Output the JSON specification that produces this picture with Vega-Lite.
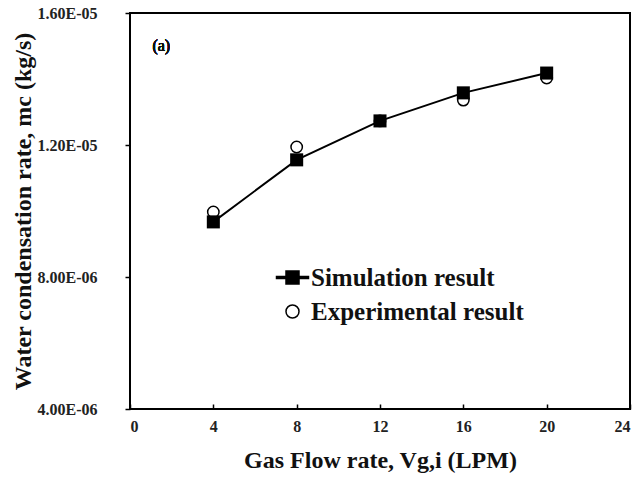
{
  "$schema": "https://vega.github.io/schema/vega-lite/v6.json",
  "autosize": "none",
  "width": 500,
  "height": 396,
  "padding": {"left": 130, "top": 13, "right": 10, "bottom": 70},
  "background": "white",
  "config": {
    "view": {"stroke": "black", "strokeWidth": 2},
    "font": "Liberation Serif",
    "axis": {"grid": false, "domain": false, "labelFont": "Liberation Serif", "labelFontWeight": "bold", "labelFontSize": 16, "labelColor": "#222", "titleFont": "Liberation Serif", "titleFontWeight": "bold", "titleFontSize": 24, "titleColor": "#111", "tickColor": "black", "tickWidth": 1.5}
  },
  "data": {
    "values": [
      {"x": 4, "y": 9.67e-6, "series": "Simulation result"},
      {"x": 8, "y": 1.155e-5, "series": "Simulation result"},
      {"x": 12, "y": 1.273e-5, "series": "Simulation result"},
      {"x": 16, "y": 1.358e-5, "series": "Simulation result"},
      {"x": 20, "y": 1.418e-5, "series": "Simulation result"},
      {"x": 4, "y": 9.97e-6, "series": "Experimental result"},
      {"x": 8, "y": 1.194e-5, "series": "Experimental result"},
      {"x": 12, "y": 1.273e-5, "series": "Experimental result"},
      {"x": 16, "y": 1.336e-5, "series": "Experimental result"},
      {"x": 20, "y": 1.403e-5, "series": "Experimental result"}
    ]
  },
  "encoding": {
    "x": {"field": "x", "type": "quantitative", "scale": {"domain": [0, 24], "nice": false}, "axis": {"values": [0, 4, 8, 12, 16, 20, 24], "title": "Gas Flow rate, Vg,i (LPM)", "tickSize": -5, "labelPadding": 14, "titlePadding": 14, "labelFontSize": 16, "labelFont": "Liberation Serif", "labelFontWeight": "bold"}},
    "y": {"field": "y", "type": "quantitative", "scale": {"domain": [4e-6, 1.6e-5], "nice": false, "zero": false}, "axis": {"values": [4e-6, 8e-6, 1.2e-5, 1.6e-5], "labelExpr": "replace(upper(format(datum.value, '.2e')), 'E-', 'E-0')", "title": "Water condensation rate, mc (kg/s)", "tickSize": 5, "labelPadding": 28, "titlePadding": 2, "labelFontSize": 16, "labelFont": "Liberation Serif", "labelFontWeight": "bold"}}
  },
  "layer": [
    {
      "transform": [{"filter": "datum.series === 'Experimental result'"}],
      "mark": {"type": "point", "filled": false, "stroke": "black", "strokeWidth": 1.5, "opacity": 1},
      "encoding": {
        "shape": {"field": "series", "type": "nominal", "scale": {"domain": ["Simulation result", "Experimental result"], "range": ["M-2.46,-0.16H2.46V0.16H-2.46Z M-1,-1H1V1H-1Z", "circle"]}, "legend": {"orient": "none", "legendX": 150, "legendY": 252, "padding": 0, "title": null, "symbolSize": 169, "labelFont": "Liberation Serif", "labelFontWeight": "bold", "labelFontSize": 25, "labelColor": "#111", "labelOffset": 6, "labelLimit": 400, "rowPadding": 8, "symbolOffset": 0, "encode": {"symbols": {"update": {"stroke": {"value": "black"}, "strokeWidth": {"value": 1.2}, "opacity": {"value": 1}}}}}},
        "fill": {"field": "series", "type": "nominal", "scale": {"domain": ["Simulation result", "Experimental result"], "range": ["black", "white"]}, "legend": {"orient": "none", "legendX": 150, "legendY": 252, "padding": 0, "title": null, "symbolSize": 169, "labelFont": "Liberation Serif", "labelFontWeight": "bold", "labelFontSize": 25, "labelColor": "#111", "labelOffset": 6, "labelLimit": 400, "rowPadding": 8, "symbolOffset": 0, "encode": {"symbols": {"update": {"stroke": {"value": "black"}, "strokeWidth": {"value": 1.2}, "opacity": {"value": 1}}}}}},
        "size": {"value": 130}
      }
    },
    {
      "transform": [{"filter": "datum.series === 'Simulation result'"}],
      "mark": {"type": "line", "color": "black", "strokeWidth": 2},
      "encoding": {}
    },
    {
      "transform": [{"filter": "datum.series === 'Simulation result'"}],
      "mark": {"type": "point", "filled": true, "shape": "square", "color": "black", "opacity": 1, "size": 170},
      "encoding": {}
    },
    {
      "mark": {"type": "text", "font": "Liberation Serif", "fontWeight": "normal", "fontSize": 16, "align": "center", "baseline": "middle", "color": "#111"},
      "encoding": {"x": {"datum": 1.5}, "y": {"datum": 1.5e-5}, "text": {"value": "(a)"}}
    }
  ]
}
